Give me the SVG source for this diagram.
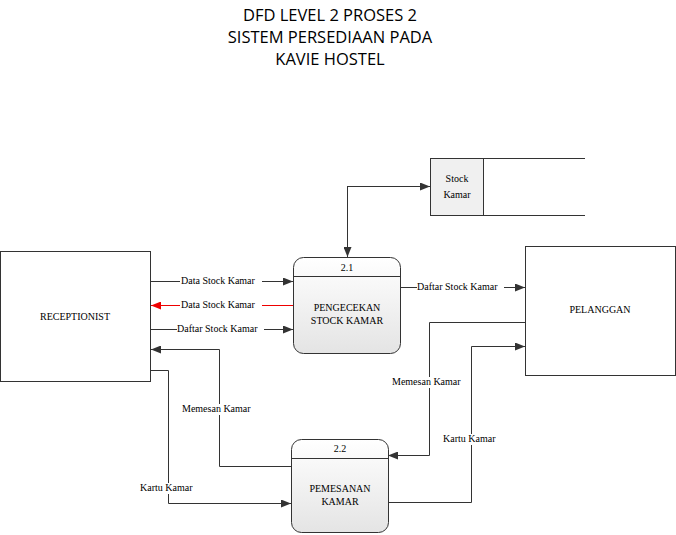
<svg xmlns="http://www.w3.org/2000/svg" width="676" height="535" viewBox="0 0 676 535">
<style>
.t{font-family:"Liberation Serif",serif;font-size:10px;fill:#000}
.ti{font-family:"Open Sans","Liberation Sans",sans-serif;font-size:16.5px;fill:#000;text-anchor:middle}
.c{stroke:#333;stroke-width:1;fill:none}
.b{fill:#fff;stroke:#333;stroke-width:1}
.lb{fill:#fff}
</style>
<defs>
<linearGradient id="g" x1="0" y1="0" x2="0" y2="1"><stop offset="0" stop-color="#fff"/><stop offset="1" stop-color="#e4e4e4"/></linearGradient>
<marker id="a" markerWidth="10" markerHeight="8" refX="10" refY="4" orient="auto" markerUnits="userSpaceOnUse"><path d="M0,0L10,4L0,8z" fill="#333"/></marker>
<marker id="r" markerWidth="10" markerHeight="8" refX="10" refY="4" orient="auto" markerUnits="userSpaceOnUse"><path d="M0,0L10,4L0,8z" fill="#e00"/></marker>
</defs>
<text class="ti" x="330" y="21">DFD LEVEL 2 PROSES 2</text>
<text class="ti" x="330" y="43">SISTEM PERSEDIAAN PADA</text>
<text class="ti" x="330" y="65">KAVIE HOSTEL</text>
<g id="receptionist"><rect class="b" x="0.5" y="251.5" width="150" height="130"/><text class="t" x="75" y="320" text-anchor="middle">RECEPTIONIST</text></g>
<g id="pelanggan"><rect class="b" x="525.5" y="246.5" width="150" height="129"/><text class="t" x="600" y="313" text-anchor="middle">PELANGGAN</text></g>
<g id="store"><rect x="430.5" y="158.5" width="53" height="57" fill="#f0f0f0" stroke="#333"/><path class="c" d="M483.5,158.5H585M483.5,215.5H585"/><text class="t" x="457" y="182" text-anchor="middle" font-size="11">Stock</text><text class="t" x="457" y="198" text-anchor="middle" font-size="11">Kamar</text></g>
<g id="p21"><rect x="293.5" y="257.5" width="107" height="96" rx="10" fill="url(#g)" stroke="#333"/><path class="c" d="M293.5,276.5H400.5"/><text class="t" x="347" y="271" text-anchor="middle">2.1</text><text class="t" x="347" y="311" text-anchor="middle">PENGECEKAN</text><text class="t" x="347" y="324" text-anchor="middle">STOCK KAMAR</text></g>
<g id="p22"><rect x="291.5" y="439.5" width="97" height="93" rx="10" fill="url(#g)" stroke="#333"/><path class="c" d="M291.5,458.5H388.5"/><text class="t" x="340" y="452" text-anchor="middle">2.2</text><text class="t" x="340" y="492" text-anchor="middle">PEMESANAN</text><text class="t" x="340" y="505" text-anchor="middle">KAMAR</text></g>
<g id="connectors">
<path class="c" d="M347,186.5H430" marker-end="url(#a)"/>
<path class="c" d="M347.5,186.5V257" marker-end="url(#a)"/>
<path class="c" d="M150,281.5H293" marker-end="url(#a)"/>
<path d="M293,305.5H151" stroke="#e00" fill="none" marker-end="url(#r)"/>
<path class="c" d="M150,329.5H293" marker-end="url(#a)"/>
<path class="c" d="M400,287.5H525" marker-end="url(#a)"/>
<path class="c" d="M291,466.5H219.5V349.5H151" marker-end="url(#a)"/>
<path class="c" d="M150,370.5H168.5V503.5H291" marker-end="url(#a)"/>
<path class="c" d="M525,322.5H429.5V455.5H388" marker-end="url(#a)"/>
<path class="c" d="M388,502.5H471.5V346.5H525" marker-end="url(#a)"/>
<rect class="lb" x="180" y="276" width="82" height="11"/><text class="t" x="181" y="284">Data Stock Kamar</text>
<rect class="lb" x="180" y="300" width="82" height="11"/><text class="t" x="181" y="308">Data Stock Kamar</text>
<rect class="lb" x="177" y="324" width="87" height="11"/><text class="t" x="177" y="332">Daftar Stock Kamar</text>
<rect class="lb" x="417" y="282" width="87" height="11"/><text class="t" x="417" y="290">Daftar Stock Kamar</text>
<rect class="lb" x="182" y="404" width="74" height="11"/><text class="t" x="182" y="412">Memesan Kamar</text>
<rect class="lb" x="392" y="377" width="74" height="11"/><text class="t" x="392" y="385">Memesan Kamar</text>
<rect class="lb" x="140" y="483" width="57" height="11"/><text class="t" x="140" y="491">Kartu Kamar</text>
<rect class="lb" x="443" y="434" width="57" height="11"/><text class="t" x="443" y="442">Kartu Kamar</text>
</g>
</svg>
